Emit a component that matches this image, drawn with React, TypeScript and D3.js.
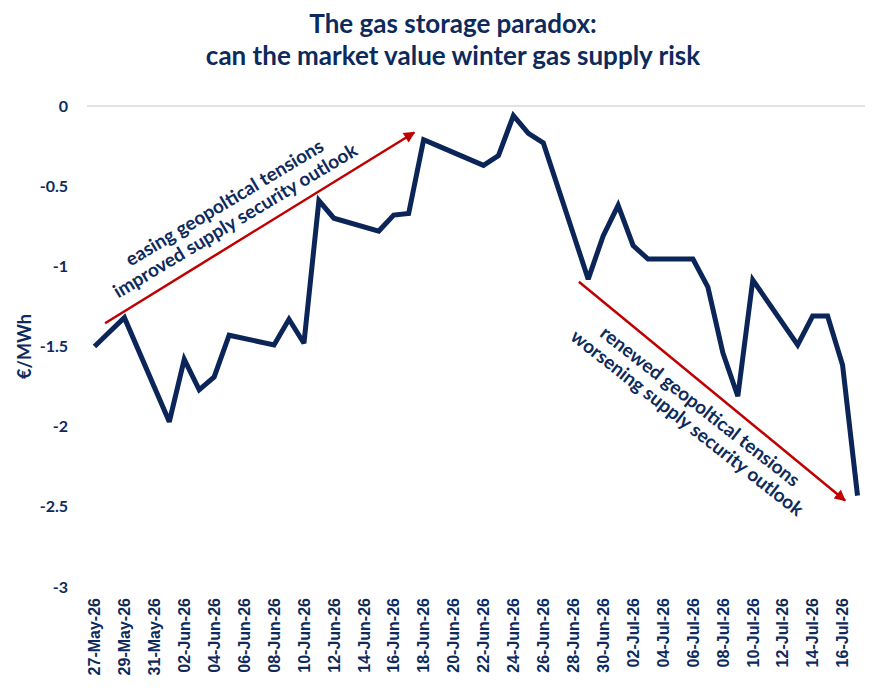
import React from 'react';
import * as d3 from 'd3';

// business-day series, €/MWh
const dates = [
  '2026-05-27', '2026-05-28', '2026-05-29',
  '2026-06-01', '2026-06-02', '2026-06-03', '2026-06-04', '2026-06-05',
  '2026-06-08', '2026-06-09', '2026-06-10', '2026-06-11', '2026-06-12',
  '2026-06-15', '2026-06-16', '2026-06-17', '2026-06-18', '2026-06-19',
  '2026-06-22', '2026-06-23', '2026-06-24', '2026-06-25', '2026-06-26',
  '2026-06-29', '2026-06-30', '2026-07-01', '2026-07-02', '2026-07-03',
  '2026-07-06', '2026-07-07', '2026-07-08', '2026-07-09', '2026-07-10',
  '2026-07-13', '2026-07-14', '2026-07-15', '2026-07-16', '2026-07-17'
];
const values = [
  -1.5, -1.41, -1.32,
  -1.97, -1.58, -1.77, -1.69, -1.43,
  -1.49, -1.33, -1.48, -0.59, -0.7,
  -0.78, -0.68, -0.67, -0.21, -0.25,
  -0.37, -0.31, -0.06, -0.17, -0.23,
  -1.08, -0.81, -0.62, -0.87, -0.955,
  -0.955, -1.13, -1.54, -1.81, -1.085,
  -1.49, -1.31, -1.31, -1.615, -2.43
];
const yTicks = [0, -0.5, -1, -1.5, -2, -2.5, -3];
const yTickLabels = ['0', '-0.5', '-1', '-1.5', '-2', '-2.5', '-3'];

const titleLines = ['The gas storage paradox:', 'can the market value winter gas supply risk'];

// annotations (arrow ends in date/value space)
const arrows = [
  { from: ['2026-05-27T17:00', -1.355], to: ['2026-06-17T09:00', -0.165] },
  { from: ['2026-06-28T09:00', -1.096], to: ['2026-07-16T04:00', -2.46] }
];
const notes = [
  { at: ['2026-06-05T02:00', -0.665], angle: -31, lines: ['easing geopoltical tensions', 'improved supply security outlook'] },
  { at: ['2026-07-06T00:00', -1.93], angle: 38, lines: ['renewed geopoltical tensions', 'worsening supply security outlook'] }
];

const W = 877;
const H = 693;
const NAVY = '#0d2a5c';
const LINE = '#0b2559';
const RED = '#c00000';
const CAL = "Lato, 'Open Sans', sans-serif";
const ARIAL = "'Liberation Sans', Arial, sans-serif";

const parse = (s: string) => new Date(s.length > 10 ? s : s + 'T00:00');

export default function App() {
  const x = d3.scaleTime()
    .domain([parse('2026-05-26T12:00'), parse('2026-07-17T12:00')])
    .range([87, 865]);
  const y = d3.scaleLinear().domain([0, -3]).range([106, 587]);

  const series = dates.map((d, i) => ({ date: parse(d), value: values[i] }));
  const line = d3.line<{ date: Date; value: number }>()
    .x(d => x(d.date))
    .y(d => y(d.value));

  const xTicks = d3.timeDay.range(parse('2026-05-27'), parse('2026-07-17'), 2);
  const fmt = d3.timeFormat('%d-%b-%y');

  return (
    <svg width={W} height={H} style={{ position: 'absolute', left: 0, top: 0, background: '#fff' }}>
      <defs>
        <marker id="arrowHead" viewBox="0 0 10 10" refX="9" refY="5" markerWidth="5" markerHeight="4.5" orient="auto" markerUnits="strokeWidth">
          <path d="M0,0 L10,5 L0,10 z" fill={RED} />
        </marker>
      </defs>

      {titleLines.map((t, i) => (
        <text key={t} x={453} y={33 + i * 32} textAnchor="middle" fontFamily={CAL}
          fontWeight="bold" fontSize={26} fill={NAVY}>{t}</text>
      ))}

      <line x1={87} x2={865} y1={y(0)} y2={y(0)} stroke="#d9d9d9" strokeWidth={1.5} />

      {yTicks.map((v, i) => (
        <text key={v} x={68} y={y(v)} dy="0.35em" textAnchor="end" fontFamily={CAL}
          fontWeight="bold" fontSize={16} fill={NAVY}>{yTickLabels[i]}</text>
      ))}

      <text transform={`translate(31,${(y(0) + y(-3)) / 2}) rotate(-90)`} textAnchor="middle"
        fontFamily={CAL} fontWeight="bold" fontSize={18} fill={NAVY}>€/MWh</text>

      {xTicks.map(d => (
        <text key={d.toISOString()} transform={`translate(${x(d)},598) rotate(-90)`} dy="0.36em"
          textAnchor="end" fontFamily={ARIAL} fontWeight="bold" fontSize={16} fill={NAVY}>{fmt(d)}</text>
      ))}

      <path d={line(series) || ''} fill="none" stroke={LINE} strokeWidth={5} strokeLinejoin="miter" strokeMiterlimit={3} />

      {arrows.map((a, i) => (
        <line key={i} x1={x(parse(a.from[0] as string))} y1={y(a.from[1] as number)}
          x2={x(parse(a.to[0] as string))} y2={y(a.to[1] as number)}
          stroke={RED} strokeWidth={2.5} markerEnd="url(#arrowHead)" />
      ))}

      {notes.map((n, i) => (
        <g key={i} transform={`translate(${x(parse(n.at[0] as string))},${y(n.at[1] as number)}) rotate(${n.angle})`}>
          {n.lines.map((t, j) => (
            <text key={t} x={0} y={j === 0 ? -5 : 16} textAnchor="middle" fontFamily={CAL}
              fontWeight="bold" fontSize={19} fill={NAVY}>{t}</text>
          ))}
        </g>
      ))}
    </svg>
  );
}
